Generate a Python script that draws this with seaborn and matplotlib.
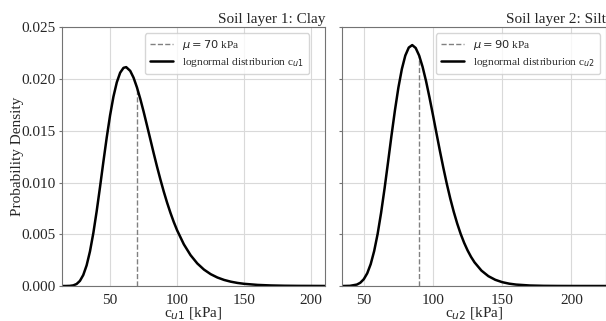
import numpy as np
import pandas as pd
import matplotlib
matplotlib.use("Agg")
import matplotlib.pyplot as plt
import seaborn as sns

# values
cu1_x = [14, 17, 20, 22.5, 25, 27.5, 30, 32.5, 35, 37.5, 40, 42.5, 45, 47.5, 50, 52.5, 55, 57.5,
         60, 62, 65, 67.5, 70, 72.5, 75, 77.5, 80, 82.5, 85, 87.5, 90, 92.5, 95, 97.5, 100, 105,
         110, 115, 120, 125, 130, 135, 140, 145, 150, 160, 170, 180, 190, 210]
cu1_pdf = [0.0, 0.0000014, 0.000014, 0.0000598, 0.000192, 0.000494, 0.001064, 0.001995, 0.003345,
           0.005112, 0.00723, 0.009575, 0.01201, 0.01436, 0.0165, 0.0183, 0.01968, 0.02061,
           0.02108, 0.02115, 0.02079, 0.02013, 0.0192, 0.01809, 0.01685, 0.01552, 0.01418,
           0.01283, 0.01153, 0.0103, 0.009133, 0.008056, 0.007072, 0.006178, 0.005377, 0.004027,
           0.002981, 0.002184, 0.001586, 0.001145, 0.000822, 0.000587, 0.000418, 0.000297,
           0.000211, 0.000106, 0.000053, 0.000026, 0.000013, 0.0000034]

cu2_x = [35, 40, 45, 47.5, 50, 52.5, 55, 57.5, 60, 62.5, 65, 67.5, 70, 72.5, 75, 77.5, 80, 82.5,
         85, 87.5, 90, 92.5, 95, 97.5, 100, 102.5, 105, 107.5, 110, 112.5, 115, 117.5, 120, 122.5,
         125, 127.5, 130, 135, 140, 145, 150, 155, 160, 170, 180, 190, 200, 225]
cu2_pdf = [0.000001, 0.0000172, 0.000138, 0.000318, 0.000657, 0.001231, 0.002117, 0.003377,
           0.00503, 0.007068, 0.00941, 0.01194, 0.01452, 0.01697, 0.01917, 0.02096, 0.02227,
           0.02304, 0.02328, 0.023, 0.02227, 0.02117, 0.01979, 0.0182, 0.01651, 0.01477, 0.01305,
           0.01141, 0.009863, 0.008444, 0.00717, 0.006035, 0.005036, 0.004175, 0.003439, 0.002814,
           0.002289, 0.001491, 0.000953, 0.0006, 0.000372, 0.000228, 0.000138, 0.000049, 0.000017,
           0.0000059, 0.000002, 0.0]

means = [70, 90]
titles = ["Soil layer 1: Clay", "Soil layer 2: Silt"]
xlims = [(14, 210.5), (34.6, 225)]

sns.set_style("whitegrid", {"axes.edgecolor": ".45", "grid.color": ".85"})
plt.rcParams["font.family"] = ["Liberation Serif", "DejaVu Serif"]

fig, axes = plt.subplots(1, 2, figsize=(6.06, 3.21), dpi=100, sharey=True)

curves = [(cu1_x, cu1_pdf), (cu2_x, cu2_pdf)]
legend_anchor = [(0.939, 0.977), (0.977, 0.977)]
for i, ax in enumerate(axes):
    x, y = curves[i]
    df = pd.DataFrame({"x": x, "pdf": y})
    n = i + 1
    top = df.loc[df["x"] == means[i], "pdf"].iloc[0]
    ax.vlines(means[i], 0, top, colors="grey", linestyles="--", linewidth=1,
              label=r"$\mu = %d$ kPa" % means[i])
    sns.lineplot(data=df, x="x", y="pdf", ax=ax, color="black", linewidth=1.8,
                 label=r"lognormal distriburion c$_{u%d}$" % n)
    ax.set_xlim(*xlims[i])
    ax.set_ylim(0, 0.025)
    ax.set_xticks([50, 100, 150, 200])
    ax.set_yticks(np.arange(0, 0.0251, 0.005))
    ax.set_xlabel(r"c$_{u%d}$ [kPa]" % n, fontsize=11, labelpad=-1)
    ax.set_ylabel("Probability Density" if i == 0 else "", fontsize=11, labelpad=-2)
    ax.set_title(titles[i], loc="right", fontsize=11, pad=3)
    ax.tick_params(labelsize=11, pad=2)
    ax.tick_params(axis="y", left=True, length=2.5, width=0.8, color=".45", pad=2)
    ax.legend(loc="upper right", bbox_to_anchor=legend_anchor[i], borderaxespad=0,
              fontsize=8.2, labelspacing=0.3, borderpad=0.45, frameon=True)

axes[0].yaxis.set_major_formatter(matplotlib.ticker.FormatStrFormatter("%.3f"))

plt.subplots_adjust(left=0.102, right=1.0, top=0.915, bottom=0.109, wspace=0.065)
plt.savefig("out.png", dpi=100)
